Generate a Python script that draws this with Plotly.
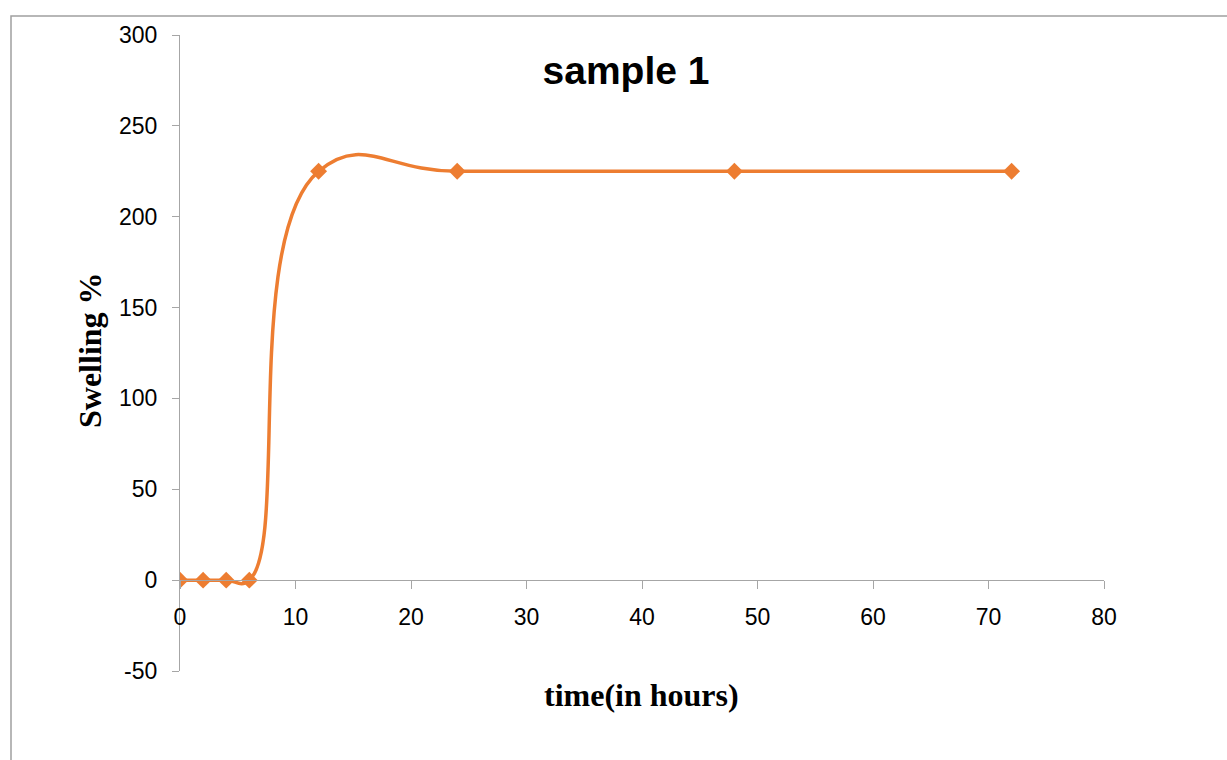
import plotly.graph_objects as go

time_hours = [0, 2, 4, 6, 12, 24, 48, 72]
swelling = [0, 0, 0, 0, 225, 225, 225, 225]
x_ticks = [0, 10, 20, 30, 40, 50, 60, 70, 80]
y_ticks = [-50, 0, 50, 100, 150, 200, 250, 300]
y_tick_labels = [str(v) for v in y_ticks]

ORANGE = "#ED7D31"
AXIS = "#A6A6A6"

fig = go.Figure()
fig.add_trace(go.Scatter(
    x=time_hours, y=swelling, mode="lines+markers",
    line=dict(color=ORANGE, width=3.5, shape="spline", smoothing=1.3),
    marker=dict(symbol="diamond", size=13, color=ORANGE),
    showlegend=False,
))

L, R, T, B = 180, 123, 35, 89
W, H = 1227, 760
pw, ph = W - L - R, H - T - B

fig.update_layout(
    width=W, height=H,
    margin=dict(l=L, r=R, t=T, b=B),
    paper_bgcolor="white", plot_bgcolor="white",
    title=dict(text="<b>sample 1</b>", x=(626 - L) / pw, xref="paper", xanchor="center",
               y=1 - 70 / H, yanchor="middle",
               font=dict(family="Liberation Sans, Arial", size=39, color="black")),
)
fig.update_xaxes(
    range=[0, 80], tickvals=x_ticks, showgrid=False, zeroline=False,
    showline=True, linecolor=AXIS, linewidth=1.3,
    ticks="outside", ticklen=8, tickcolor=AXIS, tickwidth=1.3,
    anchor="free", position=50 / 350,
    ticklabelstandoff=8,
    tickfont=dict(family="Liberation Sans, Arial", size=23, color="black"),
)
fig.update_yaxes(
    range=[-50, 300], tickvals=y_ticks, ticktext=y_tick_labels,
    showgrid=False, zeroline=False,
    showline=True, linecolor=AXIS, linewidth=1.3,
    ticks="outside", ticklen=7, tickcolor=AXIS, tickwidth=1.3,
    ticklabelstandoff=10,
    tickfont=dict(family="Liberation Sans, Arial", size=23, color="black"),
)
# axis titles placed as annotations to match the reference positions
fig.add_annotation(text="<b>time(in hours)</b>", xref="paper", yref="paper",
                   x=(641 - L) / pw, y=(H - B - 695) / ph, showarrow=False,
                   xanchor="center", yanchor="middle",
                   font=dict(family="Liberation Serif, Times New Roman", size=32, color="black"))
fig.add_annotation(text="<b>Swelling %</b>", xref="paper", yref="paper",
                   x=(90 - L) / pw, y=(H - B - 350) / ph, showarrow=False, textangle=-90,
                   xanchor="center", yanchor="middle",
                   font=dict(family="Liberation Serif, Times New Roman", size=32, color="black"))
# outer chart border
fig.add_shape(type="rect", xref="paper", yref="paper",
              x0=(11 - L) / pw, x1=(1240 - L) / pw,
              y0=(H - B - 775) / ph, y1=(H - B - 16) / ph,
              line=dict(color="#A0A0A0", width=1.5), fillcolor="rgba(0,0,0,0)", layer="below")

fig.write_html("out.html")
